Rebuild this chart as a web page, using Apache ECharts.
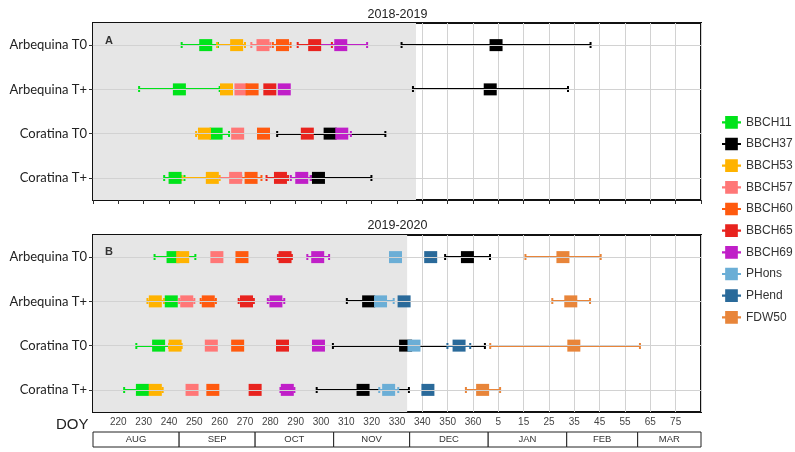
<!DOCTYPE html>
<html>
<head>
<meta charset="utf-8">
<script src="https://cdn.jsdelivr.net/npm/echarts@6/dist/echarts.min.js"></script>
<style>
  html, body { margin: 0; padding: 0; background: #fff; }
  #chart { width: 795px; height: 452px; }
</style>
</head>
<body>
<div id="chart"></div>
<script>
// rows (top to bottom) and stages
var rows = ['Arbequina T0', 'Arbequina T+', 'Coratina T0', 'Coratina T+'];
var stages = ['BBCH11', 'BBCH37', 'BBCH53', 'BBCH57', 'BBCH60', 'BBCH65', 'BBCH69', 'PHons', 'PHend', 'FDW50'];
var stageColors = ['#00e31a', '#000000', '#ffb300', '#ff7777', '#ff5a0f', '#e8231e', '#c01fc8', '#6baed6', '#2a6a9a', '#e8853a'];

// DOY (days past 365 = next year), one line per stage, values per row
// 2018-2019
var doyA = [
  [254.5, 244.1, 258.6, 242.4],
  [369.1, 366.8, 303.6, 299.0],
  [266.7, 262.7, 254.0, 257.1],
  [277.1, 268.4, 267.1, 266.3],
  [284.8, 272.8, 277.3, 272.4],
  [297.5, 279.8, 294.6, 284.0],
  [307.8, 285.5, 308.2, 292.4],
  [null, null, null, null],
  [null, null, null, null],
  [null, null, null, null]
];
var lowA = [
  [245.0, 228.2, 254.5, 238.1],
  [331.8, 336.3, 282.7, 296.0],
  [259.0, null, 250.7, 245.0],
  [272.5, null, null, 257.3],
  [281.0, null, null, 268.5],
  [290.8, null, null, 278.5],
  [297.6, null, 304.9, 288.1],
  [null, null, null, null],
  [null, null, null, null],
  [null, null, null, null]
];
var highA = [
  [259.3, 260.0, 263.7, 246.1],
  [406.4, 397.5, 325.4, 319.9],
  [270.0, null, 257.3, 260.0],
  [280.0, null, null, 272.0],
  [288.0, null, null, 276.5],
  [304.3, null, null, 287.0],
  [318.2, null, 311.8, 296.0],
  [null, null, null, null],
  [null, null, null, null],
  [null, null, null, null]
];

// 2019-2020
var doyB = [
  [241.6, 240.9, 235.9, 229.5],
  [357.8, 318.8, 333.4, 316.6],
  [245.4, 234.6, 242.4, 234.6],
  [258.9, 247.0, 256.7, 249.1],
  [268.8, 255.5, 267.1, 257.3],
  [285.8, 270.6, 284.8, 274.0],
  [298.7, 282.2, 299.0, 286.7],
  [329.4, 323.5, 336.7, 326.7],
  [343.3, 332.8, 354.5, 342.2],
  [395.5, 398.6, 399.8, 363.8]
];
var lowB = [
  [234.3, null, 227.1, 222.3],
  [349.0, 310.2, 304.7, 298.3],
  [null, 231.5, 240.0, 232.0],
  [null, 244.0, null, null],
  [null, 252.5, null, null],
  [283.0, 267.5, null, null],
  [294.6, 279.0, null, 284.0],
  [null, 320.0, null, 323.0],
  [null, null, 349.9, null],
  [380.7, 391.3, 366.8, 357.2]
];
var highB = [
  [250.4, null, 240.0, 234.0],
  [366.7, 322.0, 364.7, 334.7],
  [null, 238.0, 245.0, 237.5],
  [null, 250.0, null, null],
  [null, 258.5, null, null],
  [288.5, 273.5, null, null],
  [303.2, 285.5, null, 289.5],
  [null, 328.7, null, 330.5],
  [null, null, 358.9, null],
  [410.4, 406.2, 425.9, 370.7]
];

// grey shaded part of each panel ends here
var shadeEnd = [337.5, 334];

// month band
var monthNames = ['AUG', 'SEP', 'OCT', 'NOV', 'DEC', 'JAN', 'FEB', 'MAR'];
var monthEdges = [210, 244, 274, 305, 335, 366, 397, 425, 450];

var xMin = 210, xMax = 450;

var chart = echarts.init(document.getElementById('chart'));

// error bar: horizontal bar with caps, drawn as filled rects
function renderErr(params, api) {
  var lo = api.coord([api.value(0), api.value(2)]);
  var hi = api.coord([api.value(1), api.value(2)]);
  var y = Math.round(lo[1]);
  var c = api.visual('color');
  return {
    type: 'group',
    children: [
      { type: 'rect', shape: { x: lo[0], y: y - 1, width: hi[0] - lo[0], height: 2 }, style: { fill: c } },
      { type: 'rect', shape: { x: lo[0] - 1, y: y - 3, width: 2, height: 6 }, style: { fill: c } },
      { type: 'rect', shape: { x: hi[0] - 1, y: y - 3, width: 2, height: 6 }, style: { fill: c } }
    ]
  };
}

var series = [];

// background shade + horizontal row lines
[0, 1].forEach(function(p) {
  series.push({
    type: 'line',
    xAxisIndex: p,
    yAxisIndex: p,
    data: [],
    z: -1,
    silent: true,
    markArea: {
      silent: true,
      itemStyle: { color: '#e6e6e6' },
      data: [[{ xAxis: xMin }, { xAxis: shadeEnd[p] }]]
    },
    markLine: {
      silent: true,
      symbol: 'none',
      label: { show: false },
      lineStyle: { color: '#d2d2d2', width: 1, type: 'solid' },
      data: rows.map(function(r, i) { return { yAxis: i }; })
    }
  });
});

// error bars and markers
var panels = [[doyA, lowA, highA], [doyB, lowB, highB]];
panels.forEach(function(pd, p) {
  stages.forEach(function(s, si) {
    var errData = [];
    var ptData = [];
    rows.forEach(function(r, ri) {
      if (pd[1][si][ri] != null && pd[2][si][ri] != null) {
        errData.push([pd[1][si][ri], pd[2][si][ri], ri]);
      }
      if (pd[0][si][ri] != null) {
        ptData.push([pd[0][si][ri], ri]);
      }
    });
    series.push({
      name: s,
      type: 'custom',
      xAxisIndex: p,
      yAxisIndex: p,
      itemStyle: { color: stageColors[si] },
      encode: { x: [0, 1], y: 2 },
      renderItem: renderErr,
      data: errData
    });
    series.push({
      name: s,
      type: 'scatter',
      xAxisIndex: p,
      yAxisIndex: p,
      symbol: 'rect',
      symbolSize: [13, 12],
      itemStyle: { color: stageColors[si], opacity: 1 },
      data: ptData
    });
  });
});

// month band
series.push({
  type: 'line',
  xAxisIndex: 2,
  yAxisIndex: 2,
  data: [],
  silent: true,
  markArea: {
    silent: true,
    itemStyle: { color: '#fff', borderColor: '#222', borderWidth: 1 },
    label: { show: true, position: 'inside', color: '#333', fontSize: 9.5 },
    data: monthNames.map(function(m, i) {
      return [{ name: m, xAxis: monthEdges[i] }, { xAxis: monthEdges[i + 1] }];
    })
  }
});

var legendIcon = 'path://M0,5H3V0H15V5H18V7H15V12H3V7H0Z';

var yAxisBase = function(p) {
  return {
    type: 'category',
    gridIndex: p,
    data: rows,
    inverse: true,
    axisLine: { show: false },
    axisTick: { show: true, alignWithLabel: true, length: 4, lineStyle: { color: '#333' } },
    axisLabel: { fontFamily: 'Lato', fontSize: 13, color: '#222', margin: 6 },
    splitLine: { show: false }
  };
};

var option = {
  animation: false,
  textStyle: { fontFamily: 'Liberation Sans' },
  title: [
    { text: '2018-2019', left: 'center', top: 3, textStyle: { fontSize: 12.5, fontWeight: 'normal', color: '#222' } },
    { text: '2019-2020', left: 'center', top: 214, textStyle: { fontSize: 12.5, fontWeight: 'normal', color: '#222' } },
    { text: 'A', left: 100, top: 30, textStyle: { fontSize: 11, fontWeight: 'bold', color: '#333' } },
    { text: 'B', left: 100, top: 241, textStyle: { fontSize: 11, fontWeight: 'bold', color: '#333' } },
    { text: 'DOY', left: 51, top: 412, textStyle: { fontSize: 15, fontWeight: 'normal', color: '#222' } }
  ],
  legend: {
    orient: 'vertical',
    left: 717,
    top: 111,
    itemWidth: 19,
    itemHeight: 13,
    itemGap: 9,
    textStyle: { fontSize: 12, color: '#333' },
    data: stages.map(function(s) { return { name: s, icon: legendIcon }; })
  },
  grid: [
    { left: 93, right: 94, top: 23, height: 177, show: true, borderColor: '#111', borderWidth: 2, backgroundColor: 'transparent' },
    { left: 93, right: 94, top: 235, height: 177, show: true, borderColor: '#111', borderWidth: 2, backgroundColor: 'transparent' },
    { left: 93, right: 94, top: 432, height: 15 }
  ],
  xAxis: [
    {
      type: 'value', gridIndex: 0, min: xMin, max: xMax, interval: 10,
      axisLine: { show: false },
      axisTick: { show: true, length: 4, lineStyle: { color: '#333' } },
      axisLabel: { show: false },
      splitLine: { show: true, lineStyle: { color: '#d2d2d2' } }
    },
    {
      type: 'value', gridIndex: 1, min: xMin, max: xMax, interval: 10,
      axisLine: { show: false },
      axisTick: { show: false },
      axisLabel: {
        fontSize: 10, color: '#444', margin: 5,
        formatter: function(v) {
          if (v <= xMin || v >= xMax) return '';
          return v > 365 ? String(v - 365) : String(v);
        }
      },
      splitLine: { show: true, lineStyle: { color: '#d2d2d2' } }
    },
    { type: 'value', gridIndex: 2, min: xMin, max: xMax, show: false }
  ],
  yAxis: [
    yAxisBase(0),
    yAxisBase(1),
    { type: 'value', gridIndex: 2, min: 0, max: 1, show: false }
  ],
  series: series
};

chart.setOption(option);
</script>
</body>
</html>
